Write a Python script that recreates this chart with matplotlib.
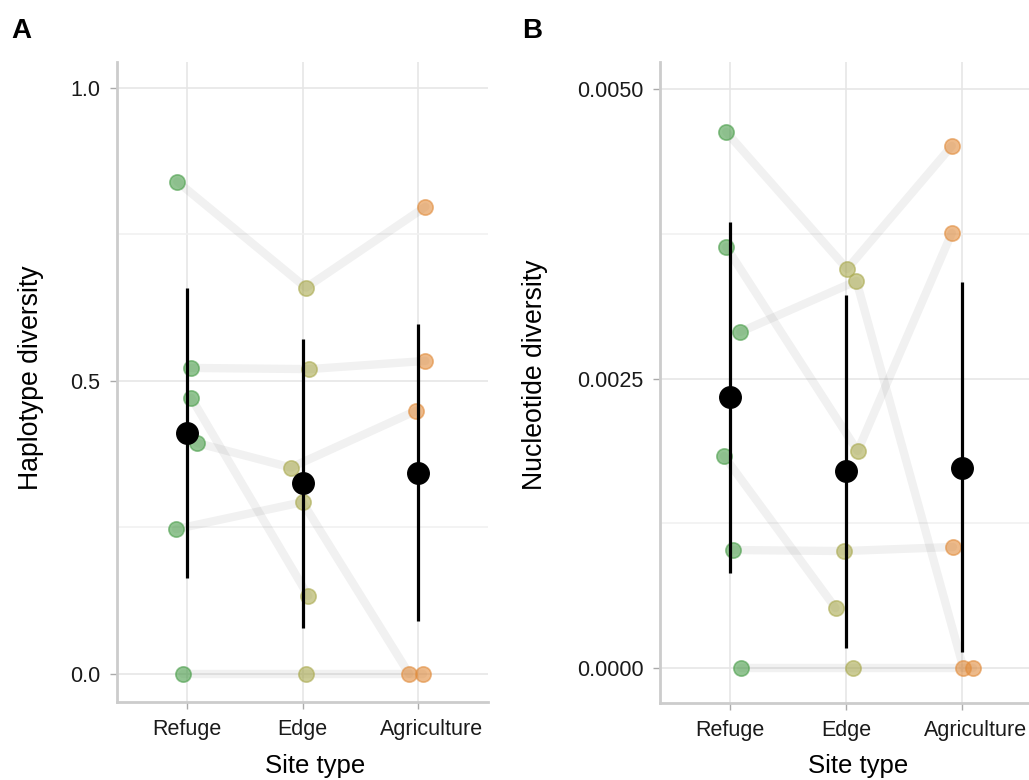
import numpy as np
import matplotlib
matplotlib.use("Agg")
import matplotlib.pyplot as plt
from matplotlib.transforms import ScaledTranslation

plt.rcParams['font.family'] = ['Liberation Sans', 'DejaVu Sans']

sites = ["Refuge", "Edge", "Agriculture"]
site_colors = ["#4a9e4a", "#aaaa50", "#e18c3c"]

# Panel A: haplotype diversity per transect (Refuge, Edge, Agriculture)
hap_values = [
    [0.840, 0.659, 0.797],
    [0.522, 0.520, 0.534],
    [0.247, 0.293, 0.000],
    [0.394, 0.352, 0.449],
    [0.471, 0.133, np.nan],
    [0.000, 0.000, 0.000],
]
hap_jitter = [
    [-0.08, 0.03, 0.06],
    [0.04, 0.06, 0.06],
    [-0.09, 0.00, -0.08],
    [0.09, -0.10, -0.02],
    [0.04, 0.05, 0.0],
    [-0.03, 0.03, 0.04],
]
hap_mean = [0.411, 0.326, 0.343]
hap_low = [0.164, 0.078, 0.090]
hap_high = [0.659, 0.572, 0.597]

# Panel B: nucleotide diversity per transect
nuc_values = [
    [0.004629, 0.003446, 0.004508],
    [0.002902, 0.003342, 0.000000],
    [0.003636, 0.001874, 0.003756],
    [0.001831, 0.000518, np.nan],
    [0.001019, 0.001010, 0.001045],
    [0.000000, 0.000000, 0.000000],
]
nuc_jitter = [
    [-0.03, 0.01, -0.09],
    [0.09, 0.09, 0.01],
    [-0.03, 0.10, -0.09],
    [-0.05, -0.09, 0.0],
    [0.03, -0.02, -0.08],
    [0.10, 0.06, 0.09],
]
nuc_mean = [0.00234, 0.00170, 0.00173]
nuc_low = [0.00082, 0.00017, 0.00014]
nuc_high = [0.00385, 0.00322, 0.00333]

W, H = 1029, 780
fig = plt.figure(figsize=(W / 100, H / 100), dpi=100)

def px_axes(left, right, top, bottom):
    return fig.add_axes([left / W, 1 - bottom / H, (right - left) / W, (bottom - top) / H])

axA = px_axes(117, 488, 62, 702)
axB = px_axes(660, 1032, 62, 703)

def draw(ax, values, jitter, mean, low, high, ylim, major, minor, fmt, ylabel,
         ylab_xy, xlab_xy):
    x = np.arange(1, len(sites) + 1)
    ax.set_xlim(0.4, 3.6)
    ax.set_ylim(*ylim)
    ax.set_yticks(major)
    ax.set_yticks(minor, minor=True)
    ax.set_yticklabels([fmt.format(v) for v in major])
    ax.set_xticks(x)
    ax.set_xticklabels(sites)
    ax.grid(True, which='major', color='#e6e6e6', lw=1.2, zorder=0)
    ax.grid(True, which='minor', axis='y', color='#f1f1f1', lw=1.2, zorder=0)
    ax.set_axisbelow(True)
    for s in ['top', 'right']:
        ax.spines[s].set_visible(False)
    for s in ['left', 'bottom']:
        ax.spines[s].set_color('#cccccc')
        ax.spines[s].set_linewidth(2.0)
    ax.tick_params(which='major', length=5, width=1, color='#aaaaaa',
                   labelsize=15.5, labelcolor='#1a1a1a', pad=7)
    ax.tick_params(which='minor', length=0)
    # transect lines
    for vals, jit in zip(values, jitter):
        xs = x + np.array(jit)
        ax.plot(xs, vals, color='#808080', alpha=0.11, lw=6,
                solid_capstyle='round', zorder=2)
    # points
    for vals, jit in zip(values, jitter):
        for i in range(len(sites)):
            if np.isnan(vals[i]):
                continue
            ax.plot(x[i] + jit[i], vals[i], 'o', ms=11, color=site_colors[i],
                    mec=site_colors[i], mew=1.2, alpha=0.6, zorder=3)
    # mean and error bars
    ax.vlines(x, low, high, color='black', lw=2.3, zorder=4)
    ax.plot(x, mean, 'o', color='black', ms=15.5, zorder=5)
    ax.set_xlabel("Site type", fontsize=18.5)
    ax.set_ylabel(ylabel, fontsize=19.2)
    ax.yaxis.set_label_coords(*ylab_xy)
    ax.xaxis.set_label_coords(*xlab_xy)
    lab = ax.get_xticklabels()[2]
    lab.set_transform(lab.get_transform() + ScaledTranslation(0.13, 0, fig.dpi_scale_trans))

draw(axA, hap_values, hap_jitter, hap_mean, hap_low, hap_high,
     (-0.048, 1.044), [0.0, 0.5, 1.0], [0.25, 0.75], "{:.1f}", "Haplotype diversity",
     (-0.198, 0.506), (0.534, -0.082))
draw(axB, nuc_values, nuc_jitter, nuc_mean, nuc_low, nuc_high,
     (-0.000302, 0.005233), [0.0, 0.0025, 0.005], [0.00125, 0.00375], "{:.4f}",
     "Nucleotide diversity", (-0.300, 0.512), (0.532, -0.080))

fig.text(11 / W, 1 - 38 / H, "A", fontsize=20, fontweight='bold')
fig.text(522 / W, 1 - 38 / H, "B", fontsize=20, fontweight='bold')

fig.savefig("out.png", dpi=100)
